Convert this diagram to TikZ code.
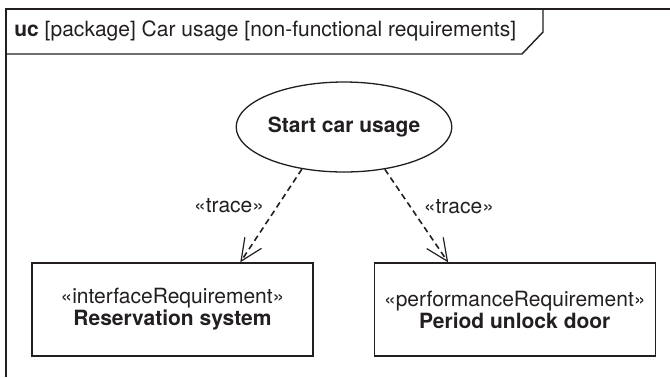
\documentclass[tikz,border=0pt]{standalone}
\usepackage{fontspec}
\setmainfont{TeX Gyre Heros}
\usepackage{tikz}
\usetikzlibrary{arrows.meta,positioning,calc,shapes.geometric}
\definecolor{ink}{HTML}{231F20}
\tikzset{
  >={Straight Barb[length=11pt,width=10pt,line width=0.6pt]},
  box/.style={draw=ink,line width=0.65pt,inner sep=0pt,minimum width=140.5pt,minimum height=46.5pt,align=center,font=\fontsize{10.5}{11}\selectfont,text=ink},
  ucell/.style={ellipse,draw=ink,line width=0.65pt,inner sep=0pt,minimum width=92.5pt,minimum height=45pt,font=\fontsize{10.5}{11}\selectfont\bfseries,text=ink},
  lab/.style={font=\fontsize{10.5}{11}\selectfont,text=ink,inner sep=0pt},
  darr/.style={->,draw=ink,line width=0.8pt,dash pattern=on 3pt off 2pt},
  frm/.style={draw=ink,line width=0.7pt},
}
\begin{document}
\begin{tikzpicture}[x=0.5pt,y=-0.5pt]
\useasboundingbox (0,0) rectangle (670,377);
% frame and name tab
\draw[frm] (6,377) -- (6,9) -- (670,9);
\draw[frm] (6,54) -- (522,54) -- (543,32) -- (543,9);
\node[lab,anchor=base west] (title) at (14,36) {\textbf{uc} [package] Car usage [non-functional requirements]};
% use case and requirements
\node[ucell] (start) at (344,127) {Start car usage};
\node[box] (resv) at (172.5,309.5) {«interfaceRequirement»\\\textbf{Reservation system}};
\node[box,right=30pt of resv] (unlock) {«performanceRequirement»\\\textbf{Period unlock door}};
% trace dependencies
\draw[darr] (start.225) -- node[lab,pos=0.39,left=6.5pt] (tl) {«trace»} ($(resv.north west)!0.74!(resv.north east)$);
\draw[darr] (start.-46) -- node[lab,pos=0.4,right=6.5pt] (tr) {«trace»} ($(unlock.north west)!0.264!(unlock.north east)$);
\end{tikzpicture}
\end{document}
